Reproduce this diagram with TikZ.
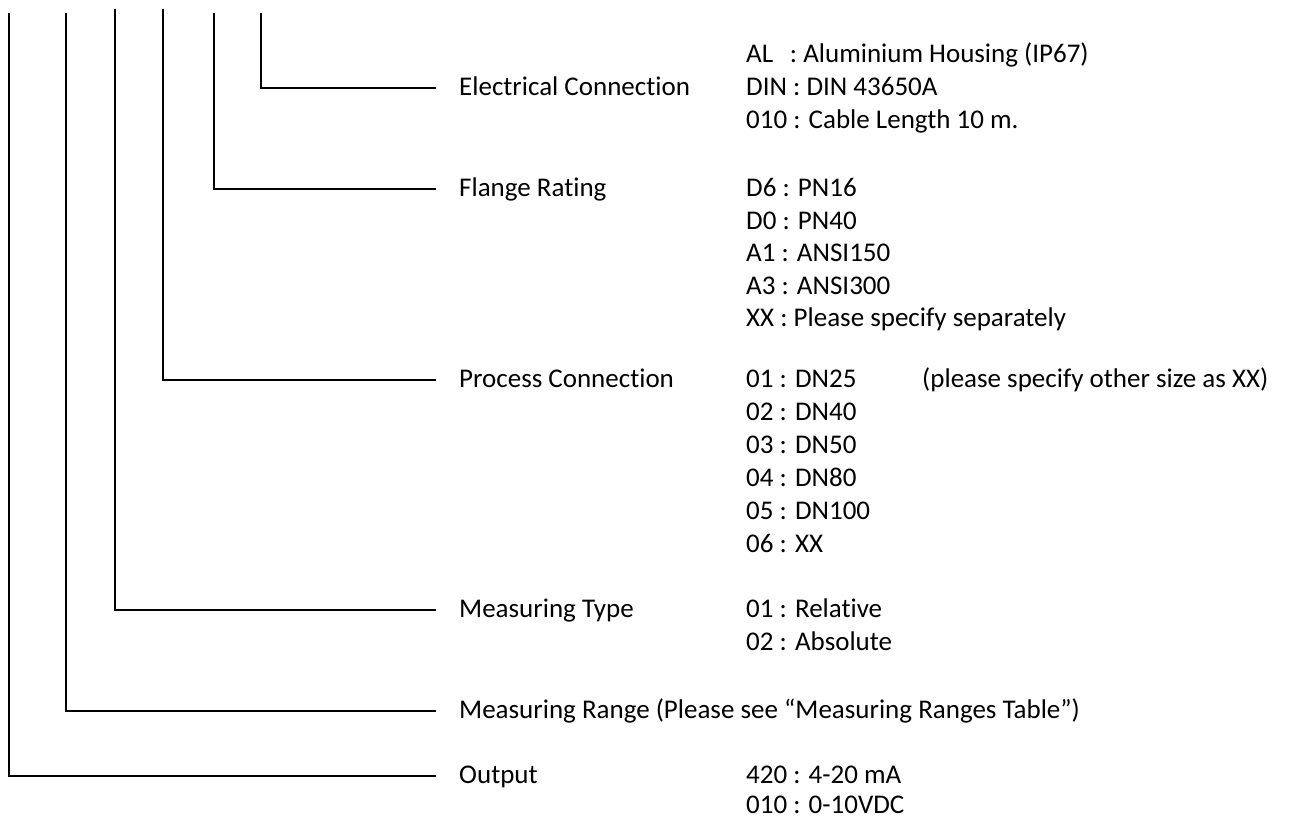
\documentclass[tikz,border=0pt]{standalone}
\usepackage{fontspec}
\setmainfont{Carlito}[Ligatures=NoCommon]
\begin{document}
\begin{tikzpicture}[x=1pt,y=-1pt,
  conn/.style={line width=2.3pt, line join=miter},
  lbl/.style={anchor=base west, inner sep=0pt, font=\fontsize{27}{33}\selectfont},
]
\useasboundingbox[fill=white] (0,0) rectangle (1298,819);
% branch points
\coordinate (tOut) at (9,13);
\coordinate (tRng) at (66,13);
\coordinate (tTyp) at (115,9);
\coordinate (tPro) at (163,9);
\coordinate (tFla) at (214,13);
\coordinate (tEle) at (261,13);
\coordinate (eOut) at (436,776);
\coordinate (eRng) at (436,711);
\coordinate (eTyp) at (436,610);
\coordinate (ePro) at (436,380);
\coordinate (eFla) at (436,189);
\coordinate (eEle) at (436,88);
\draw[conn] (tOut) |- (eOut);
\draw[conn] (tRng) |- (eRng);
\draw[conn] (tTyp) |- (eTyp);
\draw[conn] (tPro) |- (ePro);
\draw[conn] (tFla) |- (eFla);
\draw[conn] (tEle) |- (eEle);
% labels
\node[lbl] (lEle) at (459,95.5) {Electrical Connection};
\node[lbl] (lFla) at (459,196.5) {Flange Rating};
\node[lbl] (lPro) at (459,387.5) {Process Connection};
\node[lbl] (lTyp) at (459,617.5) {Measuring Type};
\node[lbl] (lRng) at (459,718.5) {Measuring Range (Please see “Measuring Ranges Table”)};
\node[lbl] (lOut) at (459,783.5) {Output};
% codes
\node[lbl] (cEle1) at (746,62.5) {AL\hspace{0.62em}: Aluminium Housing (IP67)};
\node[lbl] (cEle2) at (746,95.5) {DIN : DIN 43650A};
\node[lbl] (cEle3) at (746,128.5) {010 : Cable Length 10 m.};
\node[lbl] (cFla1) at (746,196.5) {D6 : PN16};
\node[lbl] (cFla2) at (746,229) {D0 : PN40};
\node[lbl] (cFla3) at (746,261.5) {A1 : ANSI150};
\node[lbl] (cFla4) at (746,294) {A3 : ANSI300};
\node[lbl] (cFla5) at (746,326.5) {XX : Please specify separately};
\node[lbl] (cPro1) at (746,387.5) {01 : DN25};
\node[lbl] (cPro2) at (746,420.5) {02 : DN40};
\node[lbl] (cPro3) at (746,453.5) {03 : DN50};
\node[lbl] (cPro4) at (746,486.5) {04 : DN80};
\node[lbl] (cPro5) at (746,519.5) {05 : DN100};
\node[lbl] (cPro6) at (746,552.5) {06 : XX};
\node[lbl] (cProN) at (922,387.5) {(please specify other size as XX)};
\node[lbl] (cTyp1) at (746,617.5) {01 : Relative};
\node[lbl] (cTyp2) at (746,650.5) {02 : Absolute};
\node[lbl] (cOut1) at (746,783.5) {420 : 4-20 mA};
\node[lbl] (cOut2) at (746,813.5) {010 : 0-10VDC};
\end{tikzpicture}
\end{document}
